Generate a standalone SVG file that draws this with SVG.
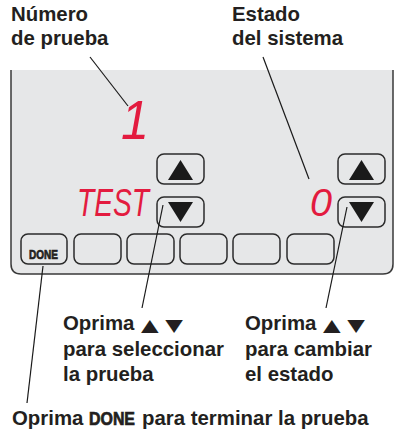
<svg xmlns="http://www.w3.org/2000/svg" width="397" height="433" viewBox="0 0 397 433">
  <style>
    .lbl { font-family: "Liberation Sans", Arial, sans-serif; font-weight: bold; font-size: 20.4px; fill: #231f20; }
    .sym { font-family: "DejaVu Sans", "Liberation Sans", sans-serif; font-size: 17px; fill: #231f20; }
    .btn { fill: #e6e7e8; stroke: #2b2b2b; stroke-width: 1.5; }
    .tri { fill: #1a1a1a; }
    .seg { font-family: "Liberation Sans", Arial, sans-serif; font-style: italic; fill: #e31b3f; }
    .conn { stroke: #1a1a1a; stroke-width: 1.2; fill: none; }
    .done { font-family: "Liberation Sans", Arial, sans-serif; font-weight: bold; fill: #231f20; stroke: #231f20; stroke-width: 0.7; }
  </style>
  <rect width="397" height="433" fill="#ffffff"/>

  <g id="panel">
    <path d="M11,70 V264 Q11,274 21,274 H383 Q393,274 393,264 V70 Z" fill="#e6e7e8" stroke="none"/>
    <path d="M11,70 V264 Q11,274 21,274 H383 Q393,274 393,264 V70" fill="none" stroke="#3a3a3a" stroke-width="1.5"/>
  </g>

  <g id="display">
    <text class="seg" x="121" y="139" font-size="56" textLength="28" lengthAdjust="spacingAndGlyphs">1</text>
    <text class="seg" x="77" y="216" font-size="39" textLength="72" lengthAdjust="spacingAndGlyphs">TEST</text>
    <text class="seg" x="310" y="216" font-size="39" textLength="22" lengthAdjust="spacingAndGlyphs">0</text>
  </g>

  <g id="btn-up-left">
    <rect class="btn" x="157" y="154" width="47" height="30" rx="7"/>
    <polygon class="tri" points="180.5,160 168,180 193,180"/>
  </g>
  <g id="btn-down-left">
    <rect class="btn" x="157" y="197" width="47" height="30" rx="7"/>
    <polygon class="tri" points="168,202 193,202 180.5,222"/>
  </g>
  <g id="btn-up-right">
    <rect class="btn" x="338" y="154" width="47" height="30" rx="7"/>
    <polygon class="tri" points="361.5,160 349,180 374,180"/>
  </g>
  <g id="btn-down-right">
    <rect class="btn" x="338" y="197" width="47" height="30" rx="7"/>
    <polygon class="tri" points="349,202 374,202 361.5,222"/>
  </g>

  <g id="btn-done">
    <rect class="btn" x="21" y="234" width="46" height="30" rx="7"/>
    <text class="done" x="29" y="259" font-size="13" textLength="29" lengthAdjust="spacingAndGlyphs" stroke-width="0.3">DONE</text>
  </g>
  <g id="btn-2"><rect class="btn" x="74" y="234" width="47" height="30" rx="7"/></g>
  <g id="btn-3"><rect class="btn" x="127" y="234" width="47" height="30" rx="7"/></g>
  <g id="btn-4"><rect class="btn" x="180" y="234" width="47" height="30" rx="7"/></g>
  <g id="btn-5"><rect class="btn" x="233" y="234" width="47" height="30" rx="7"/></g>
  <g id="btn-6"><rect class="btn" x="287" y="234" width="47" height="30" rx="7"/></g>

  <g id="connectors">
    <line class="conn" x1="90" y1="57" x2="128" y2="106"/>
    <line class="conn" x1="263" y1="57" x2="309" y2="179"/>
    <line class="conn" x1="163" y1="205" x2="142" y2="308"/>
    <line class="conn" x1="347" y1="207" x2="326" y2="308"/>
    <line class="conn" x1="43" y1="266" x2="27" y2="403"/>
  </g>

  <g id="label-numero">
    <text class="lbl" x="11" y="21">Número</text>
    <text class="lbl" x="11" y="45">de prueba</text>
  </g>
  <g id="label-estado">
    <text class="lbl" x="232" y="21">Estado</text>
    <text class="lbl" x="232" y="45">del sistema</text>
  </g>
  <g id="label-seleccionar">
    <text class="lbl" x="63" y="330">Oprima</text>
    <text class="sym" transform="translate(141,331) scale(1.35,1)" x="0" y="0" textLength="31" lengthAdjust="spacing">▲ ▼</text>
    <text class="lbl" x="63" y="356">para seleccionar</text>
    <text class="lbl" x="63" y="381">la prueba</text>
  </g>
  <g id="label-cambiar">
    <text class="lbl" x="245" y="330">Oprima</text>
    <text class="sym" transform="translate(323,331) scale(1.35,1)" x="0" y="0" textLength="31" lengthAdjust="spacing">▲ ▼</text>
    <text class="lbl" x="245" y="356">para cambiar</text>
    <text class="lbl" x="245" y="381">el estado</text>
  </g>
  <g id="label-done">
    <text class="lbl" x="12" y="425">Oprima</text>
    <text class="done" x="89" y="425" font-size="18" textLength="46" lengthAdjust="spacingAndGlyphs">DONE</text>
    <text class="lbl" x="142" y="425">para terminar la prueba</text>
  </g>
</svg>
